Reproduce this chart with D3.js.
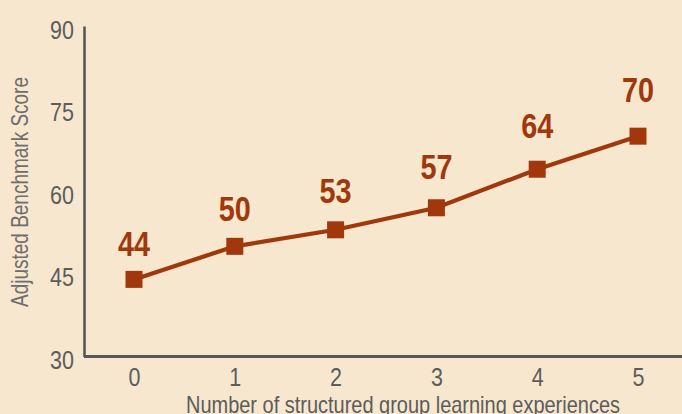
<!DOCTYPE html>
<html>
<head>
<meta charset="utf-8">
<script src="https://cdn.jsdelivr.net/npm/d3@7"></script>
<style>
  html, body { margin: 0; padding: 0; background: #f7e7cf; }
  svg { display: block; }
  text { font-family: "Liberation Sans", Arial, sans-serif; }
</style>
</head>
<body>
<svg id="chart" width="682" height="414"></svg>
<script>
// Number of structured group learning experiences vs. adjusted benchmark score
const experiences = [0, 1, 2, 3, 4, 5];
const scores = [44, 50, 53, 57, 64, 70];
const yTicks = [30, 45, 60, 75, 90];
const xTitle = "Number of structured group learning experiences";
const yTitle = "Adjusted Benchmark Score";

const W = 682, H = 414;
const axisColor = "#575757";
const tickColor = "#5c5c5c";
const markColor = "#a0380b";
const squeeze = 0.86;      // horizontal condensing of the regular text
const squeezeBold = 0.8;   // horizontal condensing of the bold value labels

const svg = d3.select("#chart");
svg.append("rect").attr("width", W).attr("height", H).attr("fill", "#f7e7cf");

const x = d3.scaleLinear().domain([0, 5]).range([134, 638]);
const y = d3.scaleLinear().domain([30, 90]).range([356.5, 26]);
// value labels sit on a slightly steeper scale so they fan out above the line
const yLabel = d3.scaleLinear().domain([30, 90]).range([339, -16]);

// y axis
const yAxis = svg.append("g").attr("transform", "translate(84,0)")
  .call(d3.axisLeft(y).tickValues(yTicks).tickSize(0).tickPadding(10));
yAxis.select(".domain").attr("stroke", axisColor).attr("stroke-width", 2.6);
yAxis.selectAll(".tick text")
  .attr("fill", tickColor)
  .style("font-size", "25px")
  .style("font-family", "'Liberation Sans', Arial, sans-serif")
  .attr("x", -10 / squeeze)
  .attr("dy", "0.48em")
  .attr("transform", `scale(${squeeze},1)`);

// x axis
const xAxis = svg.append("g").attr("transform", "translate(0,356.5)")
  .call(d3.axisBottom(x).tickValues(experiences).tickFormat(d3.format("d")).tickSize(0).tickPadding(12));
xAxis.select(".domain").attr("d", "M84,0H682").attr("stroke", axisColor).attr("stroke-width", 3);
xAxis.selectAll(".tick text")
  .attr("fill", tickColor)
  .style("font-size", "25px")
  .style("font-family", "'Liberation Sans', Arial, sans-serif")
  .attr("transform", `scale(${squeeze},1)`);

// axis titles
svg.append("text")
  .attr("x", 186).attr("y", 413)
  .attr("textLength", 434).attr("lengthAdjust", "spacingAndGlyphs")
  .attr("fill", tickColor).style("font-size", "24px")
  .text(xTitle);

svg.append("text")
  .attr("transform", "translate(28,307) rotate(-90)")
  .attr("textLength", 230).attr("lengthAdjust", "spacingAndGlyphs")
  .attr("fill", "#6e6e6e").style("font-size", "24px")
  .text(yTitle);

const data = experiences.map((e, i) => ({ e, v: scores[i] }));

// line
svg.append("path")
  .datum(data)
  .attr("fill", "none")
  .attr("stroke", markColor)
  .attr("stroke-width", 4.2)
  .attr("d", d3.line().x(d => x(d.e)).y(d => y(d.v)));

// square markers
const s = 17;
svg.selectAll("rect.pt").data(data).enter().append("rect")
  .attr("class", "pt")
  .attr("x", d => x(d.e) - s / 2).attr("y", d => y(d.v) - s / 2)
  .attr("width", s).attr("height", s)
  .attr("fill", markColor);

// value labels
svg.selectAll("g.val").data(data).enter().append("g")
  .attr("class", "val")
  .attr("transform", d => `translate(${x(d.e)},${yLabel(d.v)}) scale(${squeezeBold},1)`)
  .append("text")
  .attr("text-anchor", "middle")
  .attr("fill", markColor)
  .style("font-size", "36px").style("font-weight", "bold")
  .text(d => d.v);
</script>
</body>
</html>
